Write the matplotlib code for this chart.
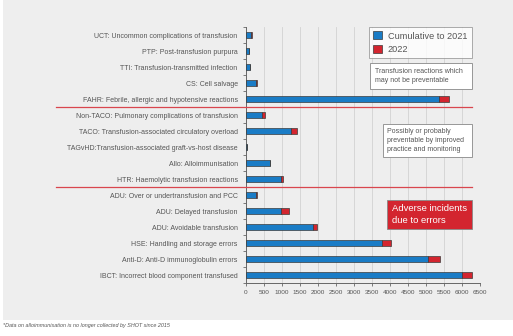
import matplotlib
matplotlib.use("Agg")
import matplotlib.pyplot as plt
from matplotlib.patches import Rectangle, Patch
from matplotlib.lines import Line2D
import matplotlib.transforms as mtransforms
import numpy as np

plt.rcParams['font.family'] = ['Liberation Sans', 'DejaVu Sans']

categories = [
    "UCT: Uncommon complications of transfusion",
    "PTP: Post-transfusion purpura",
    "TTI: Transfusion-transmitted infection",
    "CS: Cell salvage",
    "FAHR: Febrile, allergic and hypotensive reactions",
    "Non-TACO: Pulmonary complications of transfusion",
    "TACO: Transfusion-associated circulatory overload",
    "TAGvHD:Transfusion-associated graft-vs-host disease",
    "Allo: Alloimmunisation",
    "HTR: Haemolytic transfusion reactions",
    "ADU: Over or undertransfusion and PCC",
    "ADU: Delayed transfusion",
    "ADU: Avoidable transfusion",
    "HSE: Handling and storage errors",
    "Anti-D: Anti-D immunoglobulin errors",
    "IBCT: Incorrect blood component transfused",
]
cumulative_2021 = [150, 70, 100, 270, 5350, 455, 1245, 15, 676, 975,
                   270, 985, 1855, 3775, 5055, 6000]
year_2022 = [10, 5, 8, 45, 300, 65, 165, 0, 0, 65,
             36, 210, 120, 260, 340, 290]
xticks = list(range(0, 6501, 500))
legend_labels = ["Cumulative to 2021", "2022"]
box_texts = ["Transfusion reactions which\nmay not be preventable",
             "Possibly or probably\npreventable by improved\npractice and monitoring",
             "Adverse incidents\ndue to errors"]
footnote = "*Data on alloimmunisation is no longer collected by SHOT since 2015"

W, H = 513, 336
BLUE = '#1a7cc6'
RED = '#d3252f'
EDGE = '#3a3a3a'
TXT = '#555555'
BG = '#eeeeee'

def fx(x):
    return x / W

def fy(y):
    return 1 - y / H

fig = plt.figure(figsize=(W / 100, H / 100), dpi=100)
fig.patch.set_facecolor('white')
fig.add_artist(Rectangle((fx(3), fy(320)), fx(513) - fx(3), fy(0) - fy(320),
                         transform=fig.transFigure, facecolor=BG, edgecolor='none', zorder=0))

ax = fig.add_axes([fx(246), fy(283), fx(480) - fx(246), fy(27) - fy(283)])
ax.set_facecolor('none')

n = len(categories)
ypos = np.arange(n)
bh = 0.42
ax.barh(ypos, cumulative_2021, height=bh, color=BLUE, edgecolor=EDGE, linewidth=0.5, zorder=3)
ax.barh(ypos, year_2022, left=cumulative_2021, height=bh, color=RED, edgecolor=EDGE,
        linewidth=0.5, zorder=3)

ax.set_ylim(n - 0.5, -0.5)
ax.set_xlim(0, 6500)
ax.set_yticks(ypos)
ax.set_yticklabels(categories, fontsize=5.0, color=TXT)
ax.set_yticks(np.arange(-0.5, n, 1), minor=True)
ax.tick_params(axis='y', which='major', length=0, pad=6)
ax.tick_params(axis='y', which='minor', length=2, width=0.6, color='#666666')
ax.set_xticks(xticks)
ax.set_xticklabels([str(v) for v in xticks], fontsize=4.6, color=TXT)
ax.tick_params(axis='x', length=2, width=0.6, color='#666666', pad=3)
ax.grid(axis='x', color='#d2d2d2', linewidth=0.6, zorder=0)
for s in ['top', 'right']:
    ax.spines[s].set_visible(False)
for s in ['left', 'bottom']:
    ax.spines[s].set_color('#666666')
    ax.spines[s].set_linewidth(0.7)

# separator lines between groups
trans = mtransforms.blended_transform_factory(fig.transFigure, ax.transData)
for yv in [4.5, 9.5]:
    fig.add_artist(Line2D([fx(56), fx(472)], [yv, yv], transform=trans,
                          color='#d9464e', linewidth=0.9, zorder=4))

# legend
handles = [Patch(facecolor=BLUE, edgecolor=EDGE, linewidth=0.5),
           Patch(facecolor=RED, edgecolor=EDGE, linewidth=0.5)]
leg = fig.legend(handles, legend_labels, loc='upper right',
                 bbox_to_anchor=(fx(472), fy(26.7)), fontsize=6.6,
                 frameon=True, fancybox=False, handlelength=1.0, handleheight=1.0,
                 handletextpad=0.6, borderpad=0.5, labelspacing=0.45,
                 labelcolor=TXT, borderaxespad=0)
leg.get_frame().set_edgecolor('#888888')
leg.get_frame().set_linewidth(0.6)

# annotation boxes
def box(x0, y0, x1, y1, fc, ec):
    fig.add_artist(Rectangle((fx(x0), fy(y1)), fx(x1) - fx(x0), fy(y0) - fy(y1),
                             transform=fig.transFigure, facecolor=fc, edgecolor=ec,
                             linewidth=0.6, zorder=5))

box(370, 63, 472, 89, 'white', '#888888')
fig.text(fx(375), fy(76), box_texts[0], fontsize=5.0, color=TXT, va='center', ha='left',
         linespacing=1.35, zorder=6)
box(383, 124, 472, 157, 'white', '#888888')
fig.text(fx(387), fy(140.5), box_texts[1], fontsize=5.0, color=TXT, va='center', ha='left',
         linespacing=1.35, zorder=6)
box(387, 200, 472, 229, RED, '#888888')
fig.text(fx(392), fy(214.5), box_texts[2], fontsize=6.8, color='white', va='center', ha='left',
         linespacing=1.3, zorder=6)

fig.text(fx(3), fy(326), footnote, fontsize=3.9, color='#555555', style='italic',
         va='center', ha='left')

fig.savefig('out.png', dpi=100, facecolor='white')
